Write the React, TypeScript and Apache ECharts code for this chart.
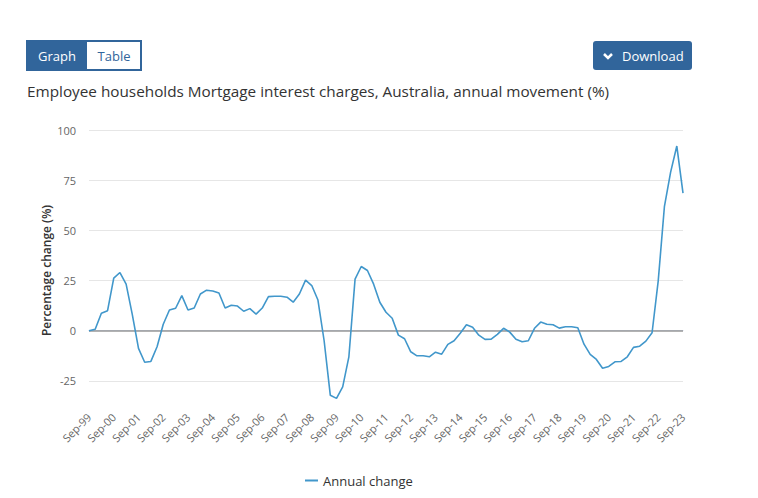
import React, { useEffect, useRef } from "react";
import * as echarts from "echarts";

const quarters: string[] = (() => {
  const out: string[] = [];
  const months = ["Sep", "Dec", "Mar", "Jun"];
  for (let i = 0; i < 97; i++) {
    const m = months[i % 4];
    const yr = 1999 + Math.floor(i / 4) + (i % 4 >= 2 ? 1 : 0);
    out.push(m + "-" + String(yr % 100).padStart(2, "0"));
  }
  return out;
})();

const annualChange: number[] = [
  0, 0.7, 8.7, 10, 26.2, 29, 23.2, 8, -8.8, -15.7,
  -15.3, -8, 3.2, 10.3, 11.2, 17.5, 10.3, 11.3, 18.3, 20.2,
  19.8, 18.8, 11.3, 12.7, 12.3, 9.7, 11, 8.3, 11.3, 17,
  17.2, 17.2, 16.7, 14.2, 18.3, 25.2, 22.5, 15.3, -5, -32.2,
  -33.7, -28, -13, 25.7, 32, 30, 23.2, 14.2, 9.2, 6.2,
  -2.2, -4, -10.5, -12.5, -12.5, -13, -10.7, -11.7, -6.8, -5,
  -1.3, 3, 1.7, -2.2, -4.3, -4.2, -1.8, 1.2, -0.7, -4.3,
  -5.5, -5, 1.2, 4.3, 3.2, 3, 1.3, 2, 2, 1.5,
  -6.7, -11.8, -14.3, -18.7, -17.8, -15.5, -15.3, -13, -8.3, -7.7,
  -5.2, -1, 25, 62, 79, 92, 68.5,
];

const gridValues: number[] = [-25, 25, 50, 75, 100];

const BLUE = "#31659b";
const FONT = "Open Sans";

export default function App() {
  const ref = useRef<HTMLDivElement>(null);
  useEffect(() => {
    if (!ref.current) return;
    const chart = echarts.init(ref.current, null, { renderer: "svg" });
    chart.setOption({
      animation: false,
      backgroundColor: "#ffffff",
      textStyle: { fontFamily: FONT },
      grid: { left: 89, right: 75, top: 130, bottom: 87, containLabel: false },
      legend: {
        data: ["Annual change"],
        left: 300,
        top: 469,
        icon: "rect",
        itemWidth: 13,
        itemHeight: 2,
        itemGap: 10,
        textStyle: { fontFamily: FONT, fontSize: 13, color: "#333333" },
      },
      xAxis: {
        type: "category",
        data: quarters,
        boundaryGap: false,
        axisLine: { lineStyle: { color: "#ccd6eb", width: 1 } },
        axisTick: { show: false },
        axisLabel: {
          interval: 3,
          rotate: 45,
          margin: 4,
          fontSize: 11,
          color: "#666666",
          fontFamily: FONT,
        },
        splitLine: { show: false },
      },
      yAxis: {
        type: "value",
        min: -40,
        max: 100,
        interval: 5,
        name: "Percentage change (%)",
        nameLocation: "middle",
        nameRotate: 90,
        nameGap: 37,
        nameMoveOverlap: false,
        nameTextStyle: { fontSize: 12, color: "#333333", fontWeight: 600, fontFamily: FONT },
        axisLine: { show: false },
        axisTick: { show: false },
        splitLine: { show: false },
        axisLabel: {
          margin: 13,
          fontSize: 11,
          color: "#666666",
          fontFamily: FONT,
          formatter: (v: number) => (v % 25 === 0 ? String(v) : ""),
        },
      },
      series: [
        {
          name: "Grid",
          type: "line",
          data: [],
          silent: true,
          markLine: {
            silent: true,
            symbol: "none",
            label: { show: false },
            lineStyle: { color: "#e6e6e6", width: 1, type: "solid" },
            data: gridValues.map((v) => ({ yAxis: v })),
          },
        },
        {
          name: "Annual change",
          type: "line",
          data: annualChange,
          symbol: "none",
          smooth: false,
          lineStyle: { color: "#4197cb", width: 1.6 },
          itemStyle: { color: "#4197cb" },
          markLine: {
            silent: true,
            symbol: "none",
            label: { show: false },
            lineStyle: { color: "#999999", width: 1.5, type: "solid" },
            data: [{ yAxis: 0 }],
          },
          z: 5,
        },
      ],
      graphic: [
        {
          type: "group",
          children: [
            { type: "rect", shape: { x: 27, y: 41, width: 114, height: 29 }, style: { fill: "#ffffff", stroke: BLUE, lineWidth: 2 } },
            { type: "rect", shape: { x: 27, y: 41, width: 60, height: 29 }, style: { fill: BLUE } },
            { type: "text", x: 57, y: 56, style: { text: "Graph", fill: "#ffffff", font: `13px "${FONT}"`, textAlign: "center", textVerticalAlign: "middle" } },
            { type: "text", x: 114, y: 56, style: { text: "Table", fill: BLUE, font: `13px "${FONT}"`, textAlign: "center", textVerticalAlign: "middle" } },
            { type: "rect", shape: { x: 593, y: 41, width: 99, height: 29, r: 3 }, style: { fill: BLUE } },
            { type: "polyline", shape: { points: [[604, 54], [608, 58], [612, 54]] }, style: { stroke: "#ffffff", lineWidth: 2.5, fill: "none" } },
            { type: "text", x: 622, y: 56, style: { text: "Download", fill: "#ffffff", font: `13px "${FONT}"`, textAlign: "left", textVerticalAlign: "middle" } },
            { type: "text", x: 27, y: 91, style: { text: "Employee households Mortgage interest charges, Australia, annual movement (%)", fill: "#333333", font: `15.3px "${FONT}"`, textAlign: "left", textVerticalAlign: "middle" } },
          ],
        },
      ],
    });
    return () => chart.dispose();
  }, []);
  return (
    <div
      ref={ref}
      style={{ position: "fixed", left: 0, top: 0, width: 758, height: 498, background: "#fff" }}
    />
  );
}
